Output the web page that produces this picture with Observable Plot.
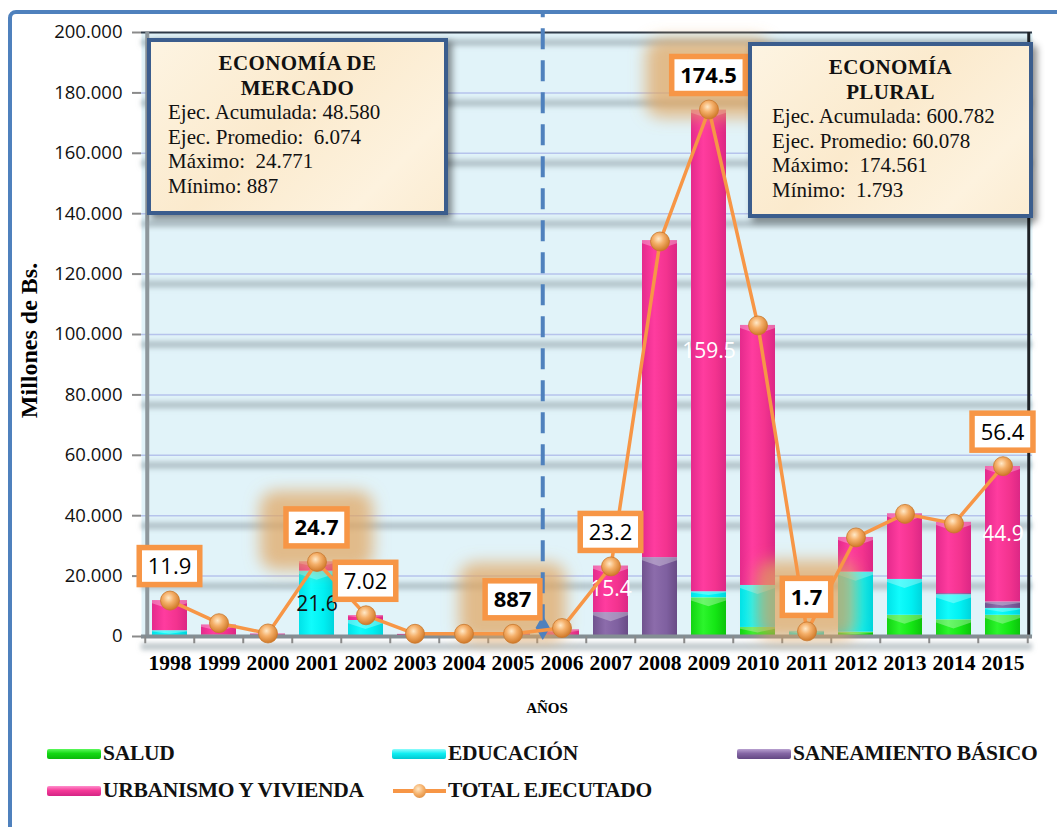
<!DOCTYPE html>
<html><head><meta charset="utf-8">
<script src="https://cdn.jsdelivr.net/npm/d3@7"></script>
<script src="https://cdn.jsdelivr.net/npm/@observablehq/plot@0.6"></script>
<style>
html,body{margin:0;padding:0;background:#fff;overflow:hidden}
#wrap{position:relative;width:1057px;height:827px;overflow:hidden;background:#fff}
#frame{position:absolute;left:8px;top:10px;width:1200px;height:1000px;border:4px solid #4f81bd;border-radius:8px;box-sizing:border-box}
#chart{position:absolute;left:0;top:0}
.box{position:absolute;box-sizing:border-box;border:4px solid #3b5d8d;background:linear-gradient(135deg,#fdf4e2,#fbeacd 45%,#fdf2de 80%,#fbecd2);box-shadow:4px 4px 7px rgba(0,0,0,.45);font-family:"Liberation Serif","Times New Roman",serif;font-size:21px;line-height:24.5px;color:#111}
.box .t{font-weight:bold;text-align:center;letter-spacing:.4px}
.leg{position:absolute;font-family:"Liberation Serif",serif;font-weight:bold;font-size:21.5px;color:#111;line-height:1;white-space:nowrap;letter-spacing:-0.3px}
.sw{position:absolute;width:54px;height:10px;border-radius:2px}
</style></head><body>
<svg width="0" height="0" style="position:absolute">
<defs>
<linearGradient id="gPink" x1="0" x2="1" y1="0" y2="0"><stop offset="0" stop-color="#e42a8c"/><stop offset="0.35" stop-color="#ff3c9f"/><stop offset="0.7" stop-color="#f3338f"/><stop offset="1" stop-color="#dc2785"/></linearGradient>
<linearGradient id="gGreen" x1="0" x2="1" y1="0" y2="0"><stop offset="0" stop-color="#12d412"/><stop offset="0.35" stop-color="#2cf52c"/><stop offset="0.7" stop-color="#14e614"/><stop offset="1" stop-color="#0cc40c"/></linearGradient>
<linearGradient id="gCyan" x1="0" x2="1" y1="0" y2="0"><stop offset="0" stop-color="#00e2e8"/><stop offset="0.35" stop-color="#10fcfc"/><stop offset="0.7" stop-color="#00f0f2"/><stop offset="1" stop-color="#00d4dc"/></linearGradient>
<linearGradient id="gPurple" x1="0" x2="1" y1="0" y2="0"><stop offset="0" stop-color="#70528e"/><stop offset="0.35" stop-color="#8c6cab"/><stop offset="0.7" stop-color="#7f60a0"/><stop offset="1" stop-color="#694b86"/></linearGradient>
<radialGradient id="ball" cx="0.42" cy="0.36" r="0.62"><stop offset="0" stop-color="#ffe9c8"/><stop offset="0.45" stop-color="#f5b06a"/><stop offset="1" stop-color="#d27c2c"/></radialGradient>
<filter id="blurS" x="-20%" y="-200%" width="140%" height="500%"><feGaussianBlur stdDeviation="2.5"/></filter>
<filter id="glowF" x="-60%" y="-60%" width="220%" height="220%"><feGaussianBlur stdDeviation="8"/></filter>
</defs></svg>
<div id="wrap">
  <div id="frame"></div>
  <div id="chart"></div>
  <div class="box" style="left:147px;top:38px;width:301px;height:177px;padding:9px 0 0 17px">
    <div class="t" style="margin-left:-17px">ECONOMÍA DE</div>
    <div class="t" style="margin-left:-17px">MERCADO</div>
    <div>Ejec. Acumulada: 48.580</div>
    <div>Ejec. Promedio:&nbsp; 6.074</div>
    <div>Máximo:&nbsp; 24.771</div>
    <div>Mínimo: 887</div>
  </div>
  <div class="box" style="left:748px;top:42px;width:285px;height:176px;padding:9px 0 0 20px">
    <div class="t" style="margin-left:-20px">ECONOMÍA</div>
    <div class="t" style="margin-left:-20px">PLURAL</div>
    <div>Ejec. Acumulada: 600.782</div>
    <div>Ejec. Promedio: 60.078</div>
    <div>Máximo:&nbsp; 174.561</div>
    <div>Mínimo:&nbsp; 1.793</div>
  </div>
  <div id="legend"></div>
</div>
<script>
const years = ["1998","1999","2000","2001","2002","2003","2004","2005","2006","2007","2008","2009","2010","2011","2012","2013","2014","2015"];
const salud       = [0,    0,   0,   0,    0.3,  0,   0,   0,     0,   0.3,  0.3,   12.8,  3.0,   0,   1.4,  7.0,  5.5,  7.0];
const educacion   = [1.9,  0.4, 0,   21.6, 5.0,  0.3, 0.3, 0,     0,   0,    0,     2.0,   13.9,  1.7, 19.9, 11.9, 8.3,  2.3];
const saneamiento = [0,    0,   0.5, 0,    0,    0,   0,   0,     0,   7.6,  25.8,  0,     0,     0,   0,    0,    0.4,  2.1];
const urbanismo   = [10.0, 3.4, 0.3, 3.1,  1.6,  0.4, 0.4, 0.887, 2.2, 15.4, 105.0, 159.5, 86.1,  0,   11.5, 21.7, 23.6, 44.9];
const totalEjec   = [11.9, 4.4, 1.0, 24.7, 7.02, 0.9, 0.9, 0.887, 2.8, 23.2, 130.8, 174.5, 103.0, 1.7, 32.8, 40.6, 37.4, 56.4];
const totalLabels = ["11.9","","","24.7","7.02","","","887","","23.2","","174.5","","1.7","","","","56.4"];
const boldLabelYears = ["2001","2005","2009","2011"];
const categories = ["SALUD","EDUCACIÓN","SANEAMIENTO BÁSICO","URBANISMO Y VIVIENDA"];
const catFills = ["url(#gGreen)","url(#gCyan)","url(#gPurple)","url(#gPink)"];
const innerLabels = [
  {year:"2001", cat:"EDUCACIÓN", text:"21.6", color:"#111"},
  {year:"2007", cat:"URBANISMO Y VIVIENDA", text:"15.4", color:"#fff"},
  {year:"2009", cat:"URBANISMO Y VIVIENDA", text:"159.5", color:"#fff"},
  {year:"2015", cat:"URBANISMO Y VIVIENDA", text:"44.9", color:"#fff"}
];
const yTicks = [0,20,40,60,80,100,120,140,160,180,200];
const splitYear = "2006";

const series = [salud, educacion, saneamiento, urbanismo];
const rows = [];
years.forEach((yr, i) => series.forEach((arr, k) => rows.push({year: yr, cat: categories[k], fill: catFills[k], value: arr[i]})));
const totals = years.map((yr, i) => ({year: yr, total: totalEjec[i], label: totalLabels[i], bold: boldLabelYears.includes(yr)}));
const innerFor = d => { const m = innerLabels.find(l => l.year === d.year && l.cat === d.cat); return m ? m.text : ""; };
const innerColor = d => { const m = innerLabels.find(l => l.year === d.year && l.cat === d.cat); return m ? m.color : "#fff"; };

const W = 1057, H = 720, ML = 141, MR = 25, MT = 32, MB = 84;
const step = (W - ML - MR) / years.length;
const fmt = d => d === 0 ? "0" : d3.format(",")(d * 1000).replace(/,/g, ".");
const SH1 = "#aab2b7", SH2 = "#8d9ba3", SH3 = "#8d959b";

const plot = Plot.plot({
  width: W, height: H,
  marginLeft: ML, marginRight: MR, marginTop: MT, marginBottom: MB,
  style: {background: "transparent", overflow: "visible"},
  x: {domain: years, paddingInner: 0.28, paddingOuter: 0.14},
  y: {domain: [0, 200]},
  color: {type: "identity"},
  marks: [
    Plot.frame({fill: "#e1f3f9", stroke: null}),
    Plot.ruleY([200], {dy: -5, stroke: SH1, strokeWidth: 7, strokeOpacity: 0.6}),
    Plot.ruleY(yTicks, {dy: 10, stroke: SH2, strokeWidth: 7, strokeOpacity: 0.55}),
    Plot.ruleY(yTicks.filter(d => d > 0 && d < 200), {stroke: "#b6c3ec", strokeWidth: 1.5}),
    Plot.ruleY([200], {stroke: "#2e3a48", strokeWidth: 2}),
    Plot.ruleX([years[0]], {dx: -step / 2 + 2, y1: 0, y2: 200, stroke: "#8e979c", strokeWidth: 4}),
    Plot.ruleX([years[years.length - 1]], {dx: step / 2 - 3, y1: 0, y2: 200, stroke: SH3, strokeWidth: 8, strokeOpacity: 0.6}),
    Plot.ruleX([years[years.length - 1]], {dx: step / 2 + 1, y1: 0, y2: 200, stroke: "#1f2226", strokeWidth: 3}),
    Plot.barY(rows, Plot.stackY({x: "year", y: "value", z: "cat", fill: "fill"})),
    Plot.text(rows, Plot.stackY({x: "year", y: "value", z: "cat", text: innerFor, fill: innerColor, fontSize: 21, fontFamily: "Open Sans"})),
    Plot.ruleY([0], {stroke: "#848e94", strokeWidth: 4}),
    Plot.ruleX(years, {dx: -step / 2, y1: 0, y2: -2.4, stroke: "#8a8a8a", strokeWidth: 2}),
    Plot.ruleX([years[years.length - 1]], {dx: step / 2, y1: 0, y2: -2.4, stroke: "#8a8a8a", strokeWidth: 2}),
    Plot.ruleX([splitYear], {dx: -19.25, y1: 3.6, y2: 206.6, stroke: "#4f81bd", strokeWidth: 4, strokeDasharray: "21,11"}),
    Plot.dot([{year: splitYear, y: 2.9}], {x: "year", y: "y", dx: -19.25, symbol: "diamond", r: 7.5, fill: "#4f81bd"}),
    Plot.line(totals, {x: "year", y: "total", stroke: "#f79646", strokeWidth: 3.5}),
    Plot.dot(totals, {x: "year", y: "total", r: 9.5, fill: "url(#ball)", stroke: "#c9772c", strokeWidth: 0.8}),
    Plot.axisY({ticks: yTicks, tickFormat: fmt, tickSize: 9, tickPadding: 10, fontSize: 18.5, fontFamily: "Open Sans", stroke: "#8a8a8a", strokeWidth: 2, fill: "#111", label: null}),
    Plot.axisX({tickSize: 0, tickPadding: 18, fontSize: 21.5, fontWeight: "bold", fontFamily: "Liberation Serif", fill: "#000", label: null}),
    Plot.text(["Millones de Bs."], {frameAnchor: "left", textAnchor: "middle", rotate: -90, dx: -112, dy: 6, fontSize: 24, fontWeight: "bold", fontFamily: "Liberation Serif", fill: "#000"}),
    Plot.text(["AÑOS"], {frameAnchor: "bottom", dx: -40, dy: 76, fontSize: 15, fontWeight: "bold", fontFamily: "Liberation Serif", fill: "#000"})
  ]
});
document.getElementById("chart").appendChild(plot);

const svg = d3.select(plot);
const shadowStrokes = new Set([SH1, SH2, SH3]);
svg.selectAll("g").filter(function() { return shadowStrokes.has(this.getAttribute("stroke")); }).attr("filter", "url(#blurS)");

// bevel caps on bar segments
const barRects = svg.selectAll("rect").filter(function() { return (this.getAttribute("fill") || "").startsWith("url(#g"); });
barRects.each(function() {
  const r = d3.select(this);
  const x = +r.attr("x"), y = +r.attr("y"), w = +r.attr("width"), h = +r.attr("height");
  if (!(h > 3)) return;
  const c = Math.min(9, h * 0.6);
  d3.select(this.parentNode).append("polygon")
    .attr("points", `${x},${y} ${x + w},${y} ${x + w},${y + c * 0.35} ${x + w / 2},${y + c} ${x},${y + c * 0.35}`)
    .attr("fill", "#fff").attr("fill-opacity", 0.3);
});

const sx = plot.scale("x"), sy = plot.scale("y");
const bw = sx.bandwidth;
const cxOf = d => sx.apply(d.year) + bw / 2;
const cyOf = d => sy.apply(d.total) - 34;

// labels with boxes
const lab = svg.append("g");
const boxes = [];
totals.filter(d => d.label).forEach(d => {
  const t = lab.append("text").attr("x", cxOf(d)).attr("y", cyOf(d)).attr("text-anchor", "middle").attr("dy", "0.36em")
    .attr("font-family", "Open Sans").attr("font-size", 22).attr("font-weight", d.bold ? "bold" : "normal").attr("fill", "#000").text(d.label);
  const bb = t.node().getBBox();
  const w = bb.width + 17, h = 37;
  boxes.push({d, w, h});
  lab.insert("rect", () => t.node()).attr("x", cxOf(d) - w / 2).attr("y", cyOf(d) - h / 2).attr("width", w).attr("height", h)
    .attr("fill", "#fff").attr("stroke", "#f79646").attr("stroke-width", 5.5);
});
// glows, under the divider
const dividerG = svg.selectAll("g").filter(function() { return this.getAttribute("stroke-dasharray"); }).node();
const glowG = d3.create("svg:g").attr("filter", "url(#glowF)");
plot.insertBefore(glowG.node(), dividerG || lab.node());
boxes.filter(b => b.d.bold).forEach(b => {
  glowG.append("rect").attr("x", cxOf(b.d) - b.w / 2 - 26).attr("y", cyOf(b.d) - b.h / 2 - 18)
    .attr("width", b.w + 52).attr("height", b.h + 42).attr("rx", 16)
    .attr("fill", "#e0a560").attr("fill-opacity", 0.72);
});

// legend
const legend = document.getElementById("legend");
const legItems = [
  {label: categories[0], grad: "linear-gradient(#5cf85c,#14d814 45%,#0cb80c)", x: 47, y: 743},
  {label: categories[1], grad: "linear-gradient(#8ffcfc,#10eef2 45%,#00c8d0)", x: 392, y: 743},
  {label: categories[2], grad: "linear-gradient(#b8a0d0,#8466a4 45%,#634883)", x: 737, y: 743},
  {label: categories[3], grad: "linear-gradient(#ff8fcc,#f43a98 45%,#d42484)", x: 47, y: 780},
  {label: "TOTAL EJECUTADO", line: true, x: 392, y: 780}
];
legItems.forEach(it => {
  if (it.line) {
    const l = document.createElement("div");
    l.style.cssText = `position:absolute;left:${it.x + 1}px;top:${it.y + 9}px;width:53px;height:4px;background:#f79646`;
    legend.appendChild(l);
    const b = document.createElement("div");
    b.style.cssText = `position:absolute;left:${it.x + 21}px;top:${it.y + 4}px;width:13px;height:14px;border-radius:50%;background:radial-gradient(circle at 40% 35%,#ffe9c8,#f5b06a 45%,#d27c2c)`;
    legend.appendChild(b);
  } else {
    const s = document.createElement("div");
    s.className = "sw";
    s.style.cssText = `left:${it.x}px;top:${it.y + 6}px;background:${it.grad}`;
    legend.appendChild(s);
  }
  const t = document.createElement("div");
  t.className = "leg";
  t.style.left = (it.x + 56) + "px";
  t.style.top = it.y + "px";
  t.textContent = it.label;
  legend.appendChild(t);
});
</script>
</body></html>
